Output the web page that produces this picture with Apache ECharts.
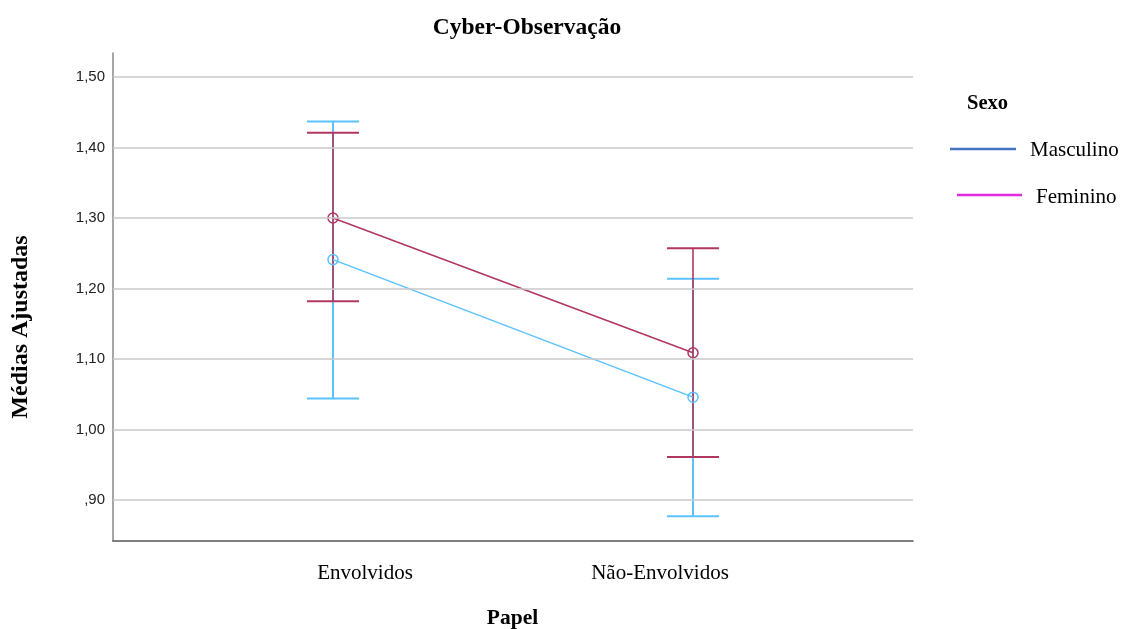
<!DOCTYPE html>
<html>
<head>
<meta charset="utf-8">
<script src="https://cdn.jsdelivr.net/npm/echarts@6/dist/echarts.min.js"></script>
<style>html,body{margin:0;padding:0;background:#fff}#c{width:1126px;height:629px}</style>
</head>
<body>
<div id="c"></div>
<script>
const categories = ['Envolvidos', 'Não-Envolvidos'];
const seriesNames = ['Masculino', 'Feminino'];
const legendTitle = 'Sexo';
const mascMean = [1.241, 1.046];
const mascLow = [1.044, 0.877];
const mascHigh = [1.437, 1.214];
const femMean = [1.300, 1.109];
const femLow = [1.182, 0.961];
const femHigh = [1.421, 1.257];
const yTicks = [0.90, 1.00, 1.10, 1.20, 1.30, 1.40, 1.50];

const mascColor = '#5BC2FF';
const femColor = '#B0375F';
const serif = 'Liberation Serif';

function fmt(v){ let s = v.toFixed(2).replace('.', ','); if (s.startsWith('0')) s = s.slice(1); return s; }

function errBar(low, high, color, stemOpacity){
  return {
    type: 'custom', xAxisIndex: 0, yAxisIndex: 0, z: 3, silent: true,
    data: low.map((l, i) => [i + 1, l, high[i]]),
    renderItem: function(params, api){
      const x = api.value(0);
      const pLow = api.coord([x, api.value(1)]);
      const pHigh = api.coord([x, api.value(2)]);
      const hw = 26;
      const st = { stroke: color, lineWidth: 2 };
      return { type: 'group', children: [
        { type: 'line', shape: { x1: pLow[0], y1: pLow[1], x2: pHigh[0], y2: pHigh[1] }, style: { stroke: color, lineWidth: 2, opacity: stemOpacity } },
        { type: 'line', shape: { x1: pLow[0]-hw, y1: pLow[1], x2: pLow[0]+hw, y2: pLow[1] }, style: st },
        { type: 'line', shape: { x1: pHigh[0]-hw, y1: pHigh[1], x2: pHigh[0]+hw, y2: pHigh[1] }, style: st }
      ]};
    }
  };
}

const legendFont = { fontFamily: serif, fontSize: 21, fill: '#000' };

const chart = echarts.init(document.getElementById('c'), null, { renderer: 'canvas' });
chart.setOption({
  animation: false,
  backgroundColor: '#fff',
  title: [
    { text: 'Cyber-Observação', left: 522, top: 11, textAlign: 'center',
      textStyle: { fontFamily: serif, fontSize: 23.5, fontWeight: 'bold', color: '#000' } }
  ],
  graphic: [
    { type: 'text', left: 967, top: 93, style: { text: legendTitle, fontFamily: serif, fontSize: 20.5, fontWeight: 'bold', fill: '#000' } },
    { type: 'line', shape: { x1: 950, y1: 149, x2: 1016, y2: 149 }, style: { stroke: '#4472C4', lineWidth: 2.5 } },
    { type: 'text', left: 1030, top: 140, style: Object.assign({ text: seriesNames[0] }, legendFont) },
    { type: 'line', shape: { x1: 957, y1: 195, x2: 1022, y2: 195 }, style: { stroke: '#E02BE0', lineWidth: 2.5 } },
    { type: 'text', left: 1036, top: 187, style: Object.assign({ text: seriesNames[1] }, legendFont) }
  ],
  grid: [
    { left: 113, right: 213, top: 53, bottom: 88, containLabel: false, outerBoundsMode: 'none' },
    { left: 217.5, right: 318.5, top: 53, bottom: 88, containLabel: false, outerBoundsMode: 'none' }
  ],
  xAxis: [
    { type: 'value', gridIndex: 0, min: 0.389, max: 2.611,
      axisLine: { show: true, lineStyle: { color: '#555', width: 1.5 } },
      axisTick: { show: false }, axisLabel: { show: false }, splitLine: { show: false } },
    { type: 'category', gridIndex: 1, data: categories,
      name: 'Papel', nameLocation: 'middle', nameGap: 66,
      nameTextStyle: { fontFamily: serif, fontSize: 21.5, fontWeight: 'bold', color: '#000' },
      axisLine: { show: false }, axisTick: { show: false },
      axisLabel: { fontFamily: serif, fontSize: 21, color: '#000', margin: 22 },
      splitLine: { show: false } }
  ],
  yAxis: [
    { type: 'value', gridIndex: 0, min: 0.842, max: 1.534,
      name: 'Médias Ajustadas', nameLocation: 'middle', nameGap: 80, nameRotate: 90,
      nameTextStyle: { fontFamily: serif, fontSize: 24, fontWeight: 'bold', color: '#000', padding: [0, 60, 0, 0] },
      axisLine: { show: true, lineStyle: { color: '#888', width: 1.5 } },
      axisTick: { show: false, customValues: yTicks },
      axisLabel: { customValues: yTicks, formatter: fmt, margin: 8,
        fontFamily: 'Liberation Sans', fontSize: 15, color: '#222' },
      splitLine: { show: false } },
    { type: 'value', gridIndex: 1, show: false, min: 0, max: 1 }
  ],
  series: [
    { type: 'line', name: 'GRID', xAxisIndex: 0, yAxisIndex: 0, data: [], silent: true,
      markLine: { silent: true, symbol: 'none', label: { show: false },
        lineStyle: { color: '#C8C8C8', width: 1.5, type: 'solid' },
        data: yTicks.map(v => ({ yAxis: v })) } },
    errBar(mascLow, mascHigh, mascColor, 1),
    errBar(femLow, femHigh, femColor, 0.8),
    { type: 'line', name: seriesNames[0], xAxisIndex: 0, yAxisIndex: 0, z: 4,
      data: mascMean.map((v, i) => [i + 1, v]),
      symbol: 'circle', symbolSize: 10,
      lineStyle: { color: mascColor, width: 1.5 },
      itemStyle: { color: 'rgba(0,0,0,0)', borderColor: mascColor, borderWidth: 1.5 } },
    { type: 'line', name: seriesNames[1], xAxisIndex: 0, yAxisIndex: 0, z: 4,
      data: femMean.map((v, i) => [i + 1, v]),
      symbol: 'circle', symbolSize: 10,
      lineStyle: { color: femColor, width: 1.5 },
      itemStyle: { color: 'rgba(0,0,0,0)', borderColor: femColor, borderWidth: 1.5 } }
  ]
});
</script>
</body>
</html>
